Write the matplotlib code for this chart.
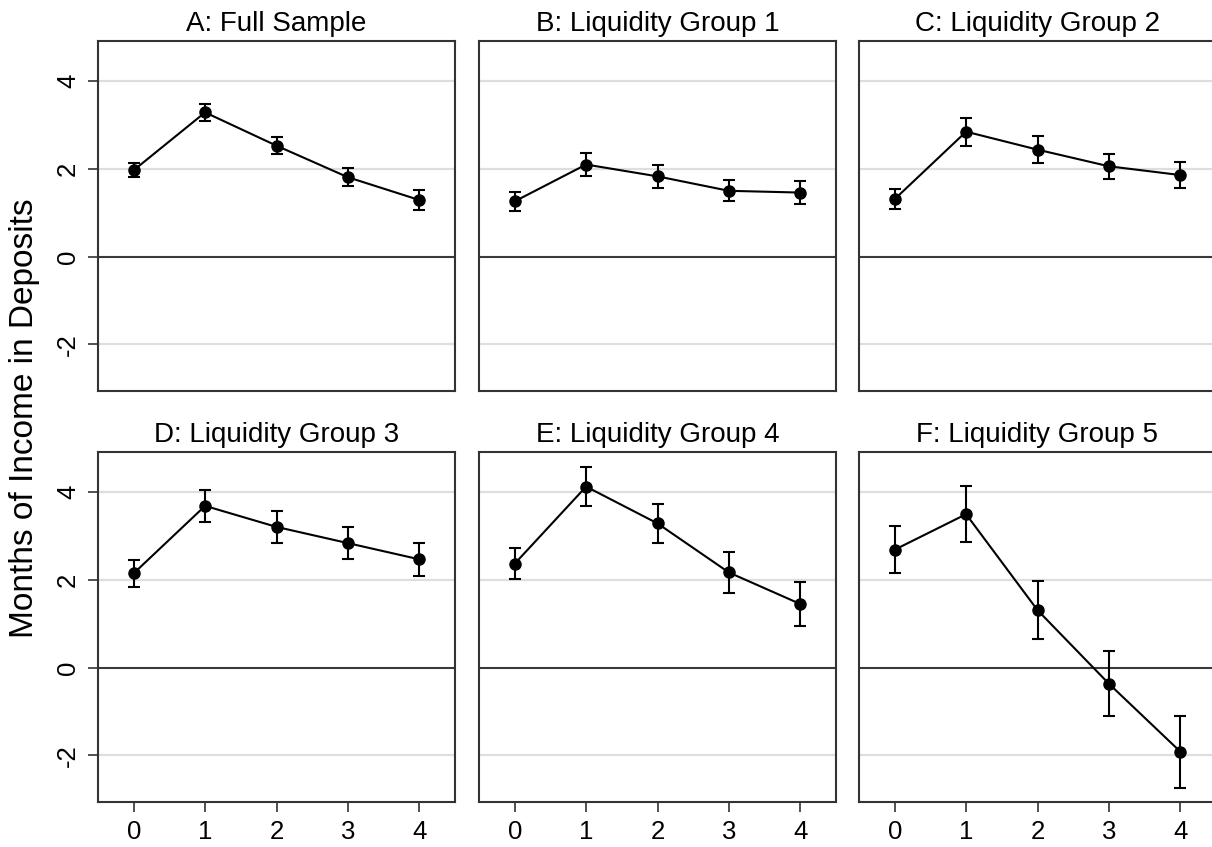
import matplotlib
matplotlib.use("Agg")
import matplotlib.pyplot as plt

# horizon (x) and panel titles
horizon = [0, 1, 2, 3, 4]
titles = ["A: Full Sample", "B: Liquidity Group 1", "C: Liquidity Group 2",
          "D: Liquidity Group 3", "E: Liquidity Group 4", "F: Liquidity Group 5"]

# point estimates
est_a = [1.97, 3.29, 2.53, 1.81, 1.29]
est_b = [1.26, 2.10, 1.83, 1.50, 1.46]
est_c = [1.31, 2.85, 2.44, 2.06, 1.86]
est_d = [2.15, 3.69, 3.21, 2.84, 2.47]
est_e = [2.37, 4.13, 3.29, 2.17, 1.45]
est_f = [2.69, 3.50, 1.31, -0.37, -1.92]

# half widths of the confidence intervals
err_a = [0.16, 0.19, 0.20, 0.21, 0.22]
err_b = [0.22, 0.26, 0.27, 0.24, 0.26]
err_c = [0.23, 0.32, 0.30, 0.29, 0.30]
err_d = [0.31, 0.36, 0.36, 0.37, 0.38]
err_e = [0.36, 0.44, 0.45, 0.46, 0.50]
err_f = [0.54, 0.64, 0.67, 0.74, 0.82]

y_ticks = [-2, 0, 2, 4]

estimates = [est_a, est_b, est_c, est_d, est_e, est_f]
errors = [err_a, err_b, err_c, err_d, err_e, err_f]

plt.rcParams['font.family'] = ['Liberation Sans', 'DejaVu Sans']

W, H = 1212, 847
fig = plt.figure(figsize=(W / 100, H / 100), dpi=100)

lefts = [98, 479, 859]
tops = [41, 452]
pw, ph = 357, 350

for i in range(6):
    row, col = divmod(i, 3)
    ax = fig.add_axes([lefts[col] / W, 1 - (tops[row] + ph) / H, pw / W, ph / H])
    ax.set_xlim(-0.5, 4.5)
    ax.set_ylim(-3.07, 4.92)
    for yv in y_ticks:
        if yv == 0:
            ax.axhline(0, color="#3a3a3a", lw=1.5, zorder=1)
        else:
            ax.axhline(yv, color="#dedede", lw=1.6, zorder=0)
    ax.errorbar(horizon, estimates[i], yerr=errors[i], color="black",
                lw=1.5, elinewidth=1.5, capsize=4.5, capthick=1.5,
                marker="o", markersize=8, zorder=3)
    ax.set_title(titles[i], fontsize=20, pad=7.5)
    for s in ax.spines.values():
        s.set_color("#333333")
        s.set_linewidth(1.5)
    ax.set_yticks(y_ticks)
    ax.set_xticks(horizon)
    ax.tick_params(axis="both", length=7, width=1.2, color="#333333",
                   labelsize=18.5, pad=6)
    if col == 0:
        ax.set_yticklabels([str(v) for v in y_ticks], rotation=90, va="center")
    else:
        ax.tick_params(axis="y", left=False, labelleft=False)
    if row == 0:
        ax.tick_params(axis="x", bottom=False, labelbottom=False)

fig.text(25 / W, 1 - 418 / H, "Months of Income in Deposits", rotation=90,
         ha="center", va="center", fontsize=24)

fig.savefig("out.png", dpi=100)
